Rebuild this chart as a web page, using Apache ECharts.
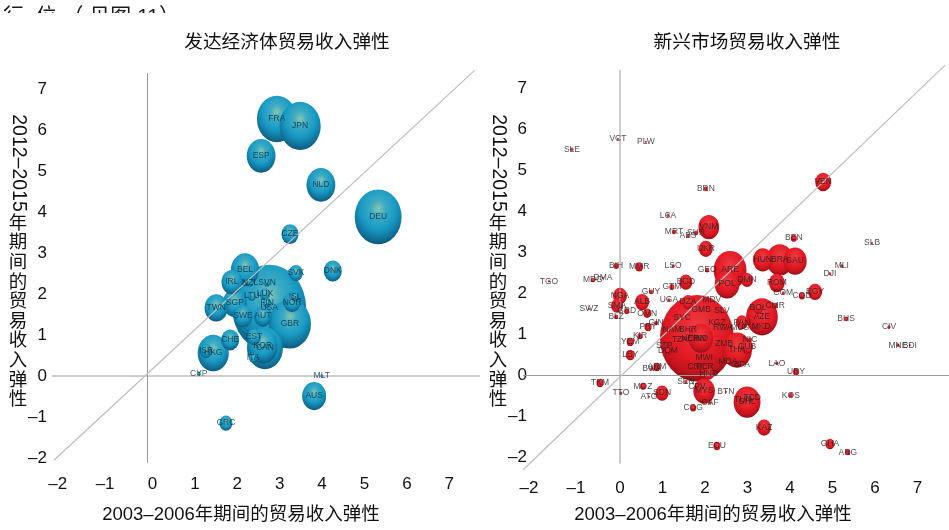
<!DOCTYPE html>
<html>
<head>
<meta charset="utf-8">
<title>贸易收入弹性</title>
<style>
html, body { margin: 0; padding: 0; background: #fff; }
#main { width: 949px; height: 530px; }
</style>
</head>
<body>
<div id="main"></div>
<script src="https://cdn.jsdelivr.net/npm/echarts@6/dist/echarts.min.js"></script>
<script>
// 发达经济体 (x: 2003-2006, y: 2012-2015, weight: 气泡大小)
var advNames = ['USA', 'GBR', 'FRA', 'JPN', 'DEU', 'HKG', 'CAN', 'KOR', 'BEL', 'ESP', 'NLD', 'SGP', 'AUS', 'TWN', 'IRL', 'SWE', 'AUT', 'CHE', 'DNK', 'CZE', 'NOR', 'SVK', 'EST', 'GRC', 'ISR', 'LUX', 'ITA', 'LTU', 'ISL', 'FIN', 'NZL', 'SVN', 'CYP', 'MLT'];
var advX = [2.87, 3.36, 3.05, 3.60, 5.44, 1.55, 2.77, 2.72, 2.30, 2.68, 4.09, 2.06, 3.93, 1.62, 1.99, 2.25, 2.72, 1.95, 4.37, 3.36, 3.41, 3.50, 2.51, 1.85, 1.38, 2.77, 2.49, 2.46, 3.48, 2.82, 2.42, 2.82, 1.21, 4.11];
var advY = [1.66, 1.27, 6.27, 6.10, 3.88, 0.56, 0.68, 0.73, 2.59, 5.37, 4.66, 1.78, -0.49, 1.66, 2.29, 1.46, 1.46, 0.88, 2.56, 3.46, 1.80, 2.51, 0.95, -1.15, 0.61, 2.00, 0.44, 1.95, 1.93, 1.78, 2.27, 2.27, 0.05, 0.00];
var advWeight = [152, 49, 44, 47, 61, 27, 36, 25, 22, 23, 23, 16, 16, 15, 12, 10, 9, 9, 9, 8, 8, 5.4, 5.4, 4.7, 4, 2.8, 1.8, 1.8, 1.8, 1.8, 1, 1, 0.44, 0.25];

// 新兴市场
var emgNames = ['CHN', 'ARE', 'POL', 'AZE', 'BRA', 'HUN', 'SAU', 'THA', 'CHL', 'IND', 'MYS', 'VNM', 'ROM', 'VEN', 'EGY', 'UKR', 'NGA', 'ALB', 'KAZ', 'BGD', 'SDN', 'DMN', 'SMA', 'DZA', 'PAN', 'CUB', 'BOL', 'HND', 'LBY', 'GHA',
    'MKD', 'MMR', 'OMN', 'YEM', 'PRY', 'ARM', 'ECU', 'TKM', 'BIH', 'GRD', 'KIR', 'ARG', 'GTM', 'COG', 'URY', 'MOZ', 'BEN', 'COD', 'DOM', 'NIC', 'GIN', 'BLZ', 'GUY', 'BRN', 'MRT', 'SUR', 'GEO', 'MDG', 'ZMB', 'CMR', 'BHS', 'KOS', 'TCD', 'TUN',
    'SLE', 'LCA', 'ABS', 'LSO', 'DJI', 'MLI', 'CIV', 'MNE', 'COM', 'LAO', 'TTO', 'UGA', 'MDV', 'GMB', 'SLV', 'SYC', 'NAM', 'BHR', 'TZA', 'NER', 'STP', 'KGZ', 'RWA', 'MUS', 'MDA', 'BFA', 'MWI', 'CRI', 'PER', 'SEN', 'CPV', 'CAF', 'BWA',
    'VCT', 'PLW', 'TGO', 'DMA', 'SWZ', 'SLB', 'BDI', 'ATG', 'BTN'];
var emgX = [1.81, 2.59, 2.52, 3.34, 3.76, 3.36, 4.12, 2.75, 2.99, 1.90, 1.98, 2.09, 3.69, 4.78, 4.59, 2.02, 0.00, 0.52, 3.39, 1.55, 0.99, 2.99, -0.07, 1.60, 2.87, 2.99, 3.25, 2.09, 0.24, 4.94,
    3.32, 0.45, 0.64, 0.24, 0.66, 0.87, 2.28, -0.47, -0.09, 0.16, 0.47, 5.36, 1.22, 1.72, 4.14, 0.54, 4.09, 4.28, 1.13, 3.06, 0.85, -0.09, 0.73, 2.02, 1.27, 1.79, 2.05, -0.64, 2.45, 3.65, 5.32, 4.02, 3.11, 2.89,
    -1.13, 1.13, 1.60, 1.25, 4.94, 5.22, 6.33, 6.54, 3.84, 3.69, 0.02, 1.15, 2.16, 1.91, 2.40, 1.46, 1.22, 1.60, 1.41, 1.65, 1.04, 2.28, 2.42, 2.82, 2.54, 2.87, 1.98, 1.76, 2.00, 1.55, 1.81, 2.12, 0.75,
    -0.05, 0.61, -1.67, -0.40, -0.73, 5.93, 6.82, 0.68, 2.49];
var emgY = [0.91, 2.57, 2.23, 1.43, 2.82, 2.82, 2.79, 0.62, -0.65, 0.91, -0.38, 3.62, 2.26, 4.72, 2.04, 3.09, 1.94, 1.79, -1.27, 2.28, -0.43, 2.33, 1.70, 1.79, 1.30, 0.70, 1.65, 0.04, 0.50, -1.67,
    1.18, 2.65, 1.52, 0.82, 1.18, 0.21, -1.72, -0.18, 2.67, 1.57, 0.96, -1.87, 2.16, -0.79, 0.09, -0.26, 3.35, 1.94, 0.60, 0.87, 1.28, 1.43, 2.04, 4.55, 3.50, 3.48, 2.57, 2.33, 0.77, 1.70, 1.38, -0.48, -0.55, -0.60,
    5.52, 3.91, 3.40, 2.67, 2.48, 2.67, 1.18, 0.74, 2.01, 0.30, -0.43, 1.84, 1.84, 1.60, 1.57, 1.40, 1.11, 1.13, 0.87, 0.89, 0.72, 1.30, 1.16, 1.16, 0.33, 0.26, 0.43, 0.21, 0.21, -0.16, -0.26, -0.67, 0.16,
    5.77, 5.70, 2.30, 2.38, 1.62, 3.23, 0.74, -0.52, -0.40];
var emgWeight = [152, 30, 17, 28, 20, 11, 15, 25, 20, 17, 13, 12, 7, 7, 5.4, 5.4, 5.4, 5.4, 5.4, 4.7, 4.7, 4, 4, 4, 4, 4, 2.8, 2.8, 2.25, 2.25,
    1.8, 1.8, 1.8, 1.4, 1.4, 1.4, 1.4, 1.4, 0.7, 0.7, 0.7, 0.7, 0.7, 1, 1, 1, 1, 1, 0.7, 0.44, 0.44, 0.44, 0.44, 0.44, 0.44, 0.44, 0.44, 0.44, 0.44, 0.7, 0.44, 0.44, 0.44, 0.44,
    0.25, 0.25, 0.25, 0.25, 0.17, 0.25, 0.25, 0.25, 0.25, 0.25, 0.25, 0.25, 0.25, 0.25, 0.25, 0.25, 0.25, 0.25, 0.25, 0.25, 0.25, 0.25, 0.25, 0.25, 0.25, 0.25, 0.25, 0.25, 0.25, 0.25, 0.25, 0.25, 0.25,
    0.11, 0.11, 0.11, 0.11, 0.11, 0.11, 0.11, 0.11, 0.11];

// 坐标轴刻度范围和参考线
var axisMin = -3;
var axisMax = 8;
var advHLine = [[-2.25, 0], [7.84, 0]];
var advVLine = [[0, -2.12], [0, 7.39]];
var advDiag = [[-2.2, -2.05], [7.72, 7.46]];
var emgHLine = [[-2.28, 0], [7.75, 0]];
var emgVLine = [[0, -2.15], [0, 7.45]];
var emgDiag = [[-2.28, -2.3], [7.65, 7.57]];

var advTitle = '发达经济体贸易收入弹性';
var emgTitle = '新兴市场贸易收入弹性';
var xName = '2003–2006年期间的贸易收入弹性';
var yNameNum = '2012–2015';
var yNameCjk = '年期间的贸易收入弹性';

var fontName = '"Liberation Sans", "Noto Sans CJK SC", sans-serif';
var cjkFont = '18.5px ' + fontName;

var blueBall = new echarts.graphic.RadialGradient(0.5, 0.35, 0.76, [
    { offset: 0, color: '#86c6ae' },
    { offset: 0.2, color: '#3fabc4' },
    { offset: 0.5, color: '#179ac4' },
    { offset: 0.72, color: '#11739b' },
    { offset: 0.88, color: '#0b5576' },
    { offset: 0.97, color: '#0b5576' },
    { offset: 1, color: '#4db8d3' }
]);
var redBall = new echarts.graphic.RadialGradient(0.5, 0.35, 0.76, [
    { offset: 0, color: '#ee3a40' },
    { offset: 0.5, color: '#e31a24' },
    { offset: 0.72, color: '#c3141c' },
    { offset: 0.9, color: '#7e0c11' },
    { offset: 0.97, color: '#7e0c11' },
    { offset: 1, color: '#dd3a40' }
]);

function toPoints(names, xs, ys, weights) {
    var points = [];
    for (var i = 0; i < names.length; i++) {
        points.push({ name: names[i], value: [xs[i], ys[i], weights[i]] });
    }
    return points;
}

// 气泡略呈椭圆
function bubbleSize(value) {
    var w = 6 * Math.sqrt(value[2]);
    return [w, w * 1.17];
}

function refLine(data, idx, color, width) {
    return {
        type: 'line',
        xAxisIndex: idx,
        yAxisIndex: idx,
        data: data,
        symbol: 'none',
        silent: true,
        lineStyle: { color: color, width: width }
    };
}

function bubbles(points, idx, ball) {
    return {
        type: 'scatter',
        xAxisIndex: idx,
        yAxisIndex: idx,
        data: points,
        symbolSize: bubbleSize,
        itemStyle: { color: ball, opacity: 1 }
    };
}

// 标签单独一层，不被后画的气泡盖住
function labels(points, idx, color) {
    return {
        type: 'scatter',
        xAxisIndex: idx,
        yAxisIndex: idx,
        data: points,
        symbolSize: 1,
        z: 5,
        itemStyle: { color: 'transparent' },
        label: {
            show: true,
            position: 'inside',
            formatter: '{b}',
            color: color,
            textBorderWidth: 0,
            fontSize: 8.5,
            fontFamily: fontName
        }
    };
}

function xTick(shifted) {
    return function (v) {
        if (v <= axisMin || v >= axisMax) return '';
        if (v === -2) return '{n2|–2}';
        if (v === -1) return '{n1|–1}';
        return shifted ? '{p|' + v + '}' : String(v);
    };
}

function xAxis(idx, margin, shifted, n2, n1) {
    return {
        type: 'value',
        gridIndex: idx,
        min: axisMin,
        max: axisMax,
        interval: 1,
        axisLine: { show: false },
        axisTick: { show: false },
        splitLine: { show: false },
        axisLabel: {
            margin: margin,
            showMinLabel: false,
            showMaxLabel: false,
            formatter: xTick(shifted),
            color: '#111',
            fontSize: 17,
            fontFamily: fontName,
            rich: {
                n2: { fontSize: 17, fontFamily: fontName, color: '#111', padding: [0, n2, 0, 0] },
                n1: { fontSize: 17, fontFamily: fontName, color: '#111', padding: [0, n1, 0, 0] },
                p: { fontSize: 17, fontFamily: fontName, color: '#111', padding: [0, 0, 0, 10] }
            }
        }
    };
}

function yAxis(idx, margin) {
    return {
        type: 'value',
        gridIndex: idx,
        min: axisMin,
        max: axisMax,
        interval: 1,
        axisLine: { show: false },
        axisTick: { show: false },
        splitLine: { show: false },
        axisLabel: {
            margin: margin,
            showMinLabel: false,
            showMaxLabel: false,
            padding: [0, 0, 4, 0],
            formatter: function (v) {
                if (v <= axisMin || v >= axisMax) return '';
                return v < 0 ? '–' + (-v) : String(v);
            },
            color: '#111',
            fontSize: 17,
            fontFamily: fontName
        }
    };
}

// 竖排标题：数字旋转，汉字直排
function yTitle(cx) {
    return [{
        type: 'text',
        x: cx,
        y: 163,
        rotation: -Math.PI / 2,
        style: { text: yNameNum, font: '19.5px ' + fontName, fill: '#111', align: 'center', verticalAlign: 'middle' }
    }, {
        type: 'text',
        x: cx,
        y: 214,
        style: { text: yNameCjk.split('').join('\n'), font: cjkFont, lineHeight: 19.6, fill: '#111', align: 'center', verticalAlign: 'top' }
    }];
}

function xTitle(cx) {
    return {
        type: 'text',
        x: cx,
        y: 515,
        style: { text: xName, font: cjkFont, fill: '#111', align: 'center', verticalAlign: 'middle' }
    };
}

var advPoints = toPoints(advNames, advX, advY, advWeight);
var emgPoints = toPoints(emgNames, emgX, emgY, emgWeight);

var chart = echarts.init(document.getElementById('main'), null, { renderer: 'canvas' });
chart.setOption({
    animation: false,
    backgroundColor: '#fff',
    title: [
        { text: advTitle, left: 282, top: 29, textAlign: 'center', textStyle: { fontFamily: fontName, fontSize: 18.7, fontWeight: 'normal', color: '#111' } },
        { text: emgTitle, left: 742, top: 29, textAlign: 'center', textStyle: { fontFamily: fontName, fontSize: 18.7, fontWeight: 'normal', color: '#111' } }
    ],
    grid: [
        { left: 20.3, top: 48, width: 466.4, height: 451, outerBoundsMode: 'none' },
        { left: 492.5, top: 47.5, width: 467.5, height: 451, outerBoundsMode: 'none' }
    ],
    xAxis: [xAxis(0, -23.5, true, 10, 0), xAxis(1, -18.5, false, 12, 3)],
    yAxis: [yAxis(0, -26.7), yAxis(1, -34.5)],
    series: [
        refLine(advHLine, 0, '#9a9a9a', 1),
        refLine(advVLine, 0, '#9a9a9a', 1),
        refLine(advDiag, 0, '#bdbdbd', 1.2),
        bubbles(advPoints, 0, blueBall),
        labels(advPoints, 0, '#0c2c3c'),
        refLine(emgHLine, 1, '#9a9a9a', 1),
        refLine(emgVLine, 1, '#9a9a9a', 1),
        refLine(emgDiag, 1, '#bdbdbd', 1.2),
        bubbles(emgPoints, 1, redBall),
        labels(emgPoints, 1, '#222222')
    ],
    graphic: yTitle(18).concat(yTitle(498)).concat([
        xTitle(241),
        xTitle(713),
        // 顶部被裁掉的上一行文字
        { type: 'text', x: 3, y: 7, z: 1, style: { text: '行  位 （ 见图 11）', font: '21px ' + fontName, fill: '#1a1a1a' } },
        { type: 'rect', z: 2, shape: { x: 0, y: 13, width: 230, height: 18 }, style: { fill: '#fff' } }
    ])
});
</script>
</body>
</html>
